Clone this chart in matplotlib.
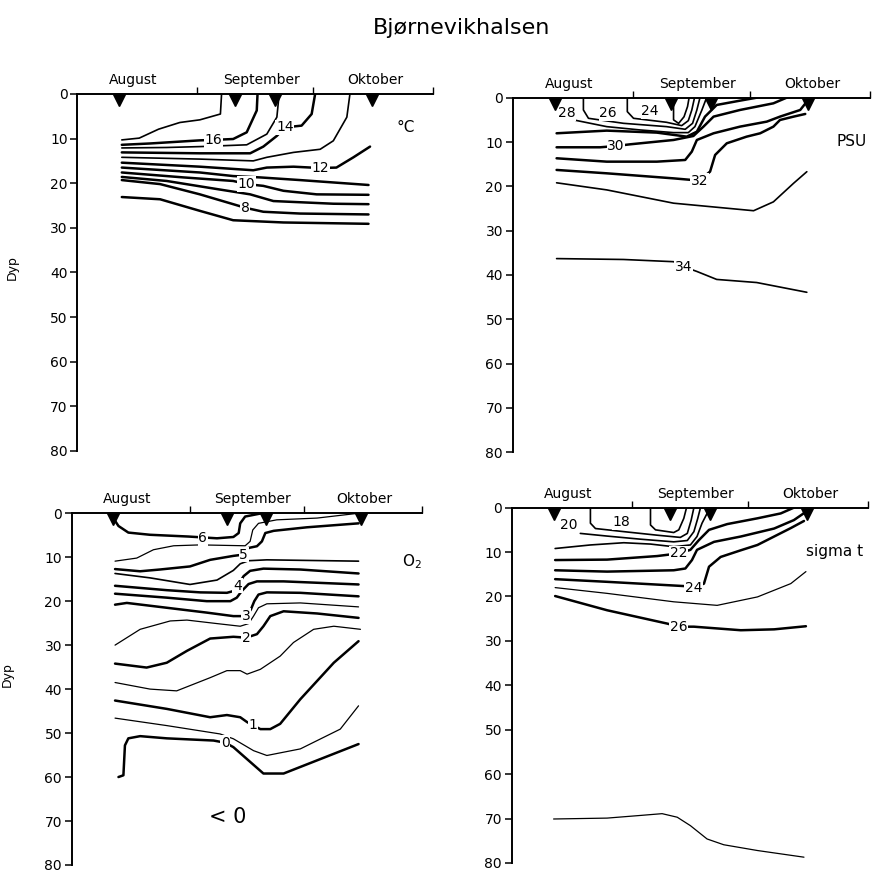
import matplotlib
matplotlib.use("Agg")
import matplotlib.pyplot as plt

# x = days after 1 August, y = depth (m)
stations = [10.8, 40.8, 51.1, 76.1]
month_ends = [31, 61, 92]
month_mid = [14.5, 47.5, 77]
month_names = ["August", "September", "Oktober"]
depth_ticks = [0, 10, 20, 30, 40, 50, 60, 70, 80]

# temperature isolines (degC)
t17 = ([11.5, 16, 21, 26.5, 31.7, 37.0, 37.3], [10.3, 9.9, 7.9, 6.4, 5.8, 4.5, 0])
t16 = ([11.5, 18.8, 31.7, 35.2, 40.3, 43.8, 46.4, 46.6], [11.4, 11.1, 10.4, 10.3, 10.1, 8.6, 3.7, 0])
t15 = ([11.5, 23, 31.7, 43.8, 49, 51.6, 52.2], [12.1, 12, 11.8, 11.4, 9, 5.2, 0])
t14 = ([11.5, 31.7, 44.7, 48.1, 51.6, 53.7, 58, 60.6, 61.5], [13.1, 13.3, 13.3, 11.8, 9.4, 7.5, 7.1, 4.5, 0])
t13 = ([11.5, 31.7, 45.5, 49, 55.9, 62.8, 66.2, 69.7, 70.5], [14.2, 14.6, 15, 14.2, 13.1, 12.4, 10.5, 5.2, 0])
t12 = ([11.5, 31.7, 45.5, 49, 55.9, 62.8, 67, 71.4, 75.7], [15.4, 16.3, 17.1, 16.5, 16.3, 16.6, 16.5, 14.2, 11.8])
t11 = ([11.5, 31.7, 40.3, 47.2, 57.6, 75.3], [16.5, 17.6, 18.4, 18.7, 19.3, 20.4])
t10 = ([11.5, 27.4, 40.3, 43.8, 48.1, 53.3, 61.9, 75.3], [17.6, 18.7, 19.5, 20.2, 20.6, 21.7, 22.5, 22.6])
t9 = ([11.5, 23.1, 36, 44.7, 50.7, 66.2, 75.3], [18.6, 19.5, 21.3, 22.5, 24.0, 24.6, 24.7])
t8 = ([11.5, 21.4, 31.7, 40.3, 43.4, 48.1, 57.6, 75.3], [19.3, 20.2, 22.5, 24.7, 25.5, 26.4, 26.8, 27.0])
t7 = ([11.5, 21.4, 31.7, 40.3, 53.3, 75.3], [23.1, 23.6, 26.2, 28.3, 28.8, 29.1])

# salinity isolines (PSU)
s23 = ([41.4, 41.4, 42.7, 44.1, 45.0, 45.4], [0, 5.0, 5.8, 4.3, 2.0, 0])
s25 = ([29.5, 29.5, 31.1, 39.6, 43.5, 45.2, 46.1, 46.8], [0, 3.15, 4.65, 5.55, 6.3, 5.18, 2.77, 0])
s27 = ([18.2, 18.2, 19.5, 28.5, 39.6, 44.4, 46.3, 47.4, 48.2], [0, 2.77, 4.65, 5.78, 6.53, 7.13, 5.78, 2.77, 0])
s28 = ([15.6, 24.2, 32.8, 41.4, 45.2, 46.9, 48.7, 49.9], [5.0, 6.53, 7.28, 7.88, 7.88, 6.53, 2.77, 0])
s29 = ([11.3, 24.2, 37.1, 44.8, 47.4, 49.5, 52.5, 58.5, 62.8], [8.03, 7.43, 7.88, 8.79, 7.66, 4.27, 1.64, 0.67, 0])
s30 = ([11.3, 22.5, 26.6, 30.2, 41.4, 46.5, 49.1, 51.7, 58.5, 67.1, 70.5],
       [11.19, 11.19, 10.9, 10.52, 9.54, 8.64, 6.53, 4.27, 2.77, 1.27, 0])
s31 = ([11.3, 24.2, 37.1, 44.4, 46.1, 47.4, 51.7, 58.5, 65.4, 68.8, 74.0, 75.7],
       [13.67, 14.43, 14.43, 14.05, 12.17, 9.54, 8.03, 6.53, 5.4, 4.27, 2.77, 0.89])
s32 = ([11.3, 24.2, 41.4, 48.0, 50.8, 52.1, 55.1, 60.2, 63.7, 67.1, 68.8, 72.3, 75.3],
       [16.3, 17.06, 18.2, 18.7, 16.68, 12.92, 10.29, 8.79, 8.03, 6.53, 5.03, 4.27, 3.67])
s33 = ([11.3, 24.2, 41.4, 62.0, 67.1, 72.3, 75.7], [19.2, 20.8, 23.8, 25.5, 23.5, 19.3, 16.7])
s34 = ([11.3, 28.5, 41.4, 43.9, 47.4, 52.5, 62.8, 75.7], [36.3, 36.5, 37.0, 38.1, 39.2, 41.0, 41.7, 43.9])

# oxygen isolines (ml/l)
o6 = ([10.1, 12.3, 14.9, 20.6, 30.7, 38.2, 42.5, 43.9, 44.3, 45.6, 50.0],
      [0.0, 2.9, 4.4, 4.9, 5.3, 5.7, 5.4, 4.5, 2.3, 0.75, 0.0])
o55 = ([11.4, 17.1, 21.5, 26.8, 33.8, 45.6, 46.9, 47.6, 49.1, 53.9, 64.5, 75.4],
       [10.9, 10.2, 8.3, 7.4, 7.2, 7.4, 6.4, 3.8, 2.3, 1.5, 1.1, 0.0])
o5 = ([11.4, 18.0, 23.2, 31.1, 36.4, 42.5, 45.2, 46.5, 48.7, 50.0, 50.9, 53.1, 61.8, 75.4],
      [12.7, 13.2, 12.8, 12.1, 10.6, 9.7, 9.4, 7.9, 7.5, 6.4, 4.5, 4.0, 3.2, 2.3])
o45 = ([11.4, 20.6, 31.1, 38.2, 42.5, 44.3, 46.5, 51.3, 75.4],
       [13.7, 14.7, 16.2, 15.2, 13.0, 11.5, 10.8, 10.6, 10.9])
o4 = ([11.4, 25.0, 33.8, 40.8, 42.5, 43.6, 45.2, 46.9, 50.4, 60.1, 75.4],
      [16.5, 17.5, 18.0, 18.1, 17.7, 16.5, 14.3, 13.1, 12.6, 12.8, 13.7])
o37 = ([11.4, 25.0, 35.5, 41.7, 43.4, 44.7, 46.5, 48.7, 55.7, 75.4],
       [18.3, 19.2, 20.0, 20.0, 19.2, 17.7, 16.1, 15.5, 15.5, 16.2])
o3 = ([11.4, 14.5, 25.0, 35.5, 42.5, 45.9, 47.1, 48.0, 49.1, 51.3, 60.1, 75.4],
      [20.8, 20.4, 21.5, 22.6, 23.4, 23.4, 21.9, 20.0, 18.5, 18.0, 18.1, 18.9])
o25 = ([11.4, 18.0, 25.9, 30.3, 38.2, 44.3, 46.5, 47.8, 49.1, 51.3, 60.1, 75.4],
       [30.0, 26.4, 24.5, 24.3, 25.1, 25.7, 25.1, 23.4, 21.5, 20.6, 20.4, 21.3])
o2 = ([11.4, 19.7, 25.0, 30.3, 36.4, 42.5, 45.9, 48.7, 50.4, 52.2, 55.7, 64.5, 75.4],
      [34.2, 35.1, 34.0, 31.3, 28.5, 28.1, 28.3, 27.5, 25.7, 23.4, 22.3, 22.8, 23.8])
o15 = ([11.4, 20.6, 27.6, 36.4, 40.8, 44.3, 46.1, 49.6, 54.8, 58.3, 63.6, 68.9, 75.9],
       [38.5, 40.0, 40.4, 37.4, 35.8, 35.8, 36.6, 35.5, 32.5, 29.4, 26.4, 25.7, 26.4])
o1 = ([11.4, 25.0, 36.4, 40.8, 44.3, 46.1, 47.6, 49.6, 52.2, 54.8, 60.1, 68.9, 75.4],
      [42.6, 44.5, 46.4, 45.9, 46.4, 47.5, 48.2, 49.1, 49.1, 47.9, 42.3, 34.0, 29.1])
o05 = ([11.4, 25.0, 39.0, 42.5, 47.8, 51.3, 60.1, 70.6, 75.4],
       [46.6, 48.3, 50.2, 51.3, 54.0, 55.1, 53.6, 49.1, 43.8])
o0 = ([12.3, 13.6, 14.0, 14.9, 18.0, 25.0, 37.3, 40.4, 42.5, 50.4, 55.7, 75.4],
      [60.0, 59.6, 52.8, 51.2, 50.7, 51.2, 51.7, 52.2, 53.2, 59.2, 59.2, 52.5])

# sigma-t isolines
g17 = ([35.8, 35.8, 37.1, 41.8, 43.1, 44.4, 45.1], [0, 3.9, 5.0, 5.6, 5.0, 2.4, 0])
g18 = ([20.3, 20.3, 21.6, 28.9, 37.5, 43.5, 45.3, 46.3, 47.0], [0, 3.5, 4.7, 5.4, 6.2, 6.7, 5.8, 2.8, 0])
g19 = ([17.7, 24.6, 33.2, 41.8, 45.3, 47.0, 48.0, 48.7], [5.8, 6.4, 7.1, 7.7, 7.4, 5.4, 2.4, 0])
g20 = ([11.2, 20.3, 28.9, 35.8, 41.8, 46.1, 47.8, 49.1, 50.4, 51.3], [9.2, 8.4, 7.9, 8.2, 8.8, 8.4, 6.5, 3.5, 1.3, 0])
g21 = ([11.2, 24.6, 37.5, 43.1, 46.1, 48.3, 50.9, 55.6, 63.4, 69.4, 72.8],
       [11.8, 11.7, 10.9, 10.3, 9.5, 7.3, 5.0, 3.7, 2.4, 1.3, 0])
g23 = ([11.2, 24.6, 41.8, 44.8, 46.5, 47.8, 52.2, 59.1, 67.7, 72.8, 75.8],
       [14.1, 14.4, 14.1, 13.7, 11.8, 9.5, 7.7, 6.5, 4.7, 2.8, 1.0])
g24 = ([11.2, 24.6, 45.3, 47.0, 49.6, 50.9, 53.9, 59.1, 63.4, 67.7, 72.0, 75.4],
       [16.1, 16.7, 17.7, 18.0, 17.1, 13.3, 11.1, 9.6, 8.4, 6.5, 4.6, 3.0])
g25 = ([11.2, 24.6, 41.8, 53.0, 63.4, 72.0, 75.9], [18.0, 19.3, 21.2, 22.0, 20.1, 17.1, 14.4])
g26 = ([11.2, 24.6, 40.1, 43.1, 47.0, 59.1, 67.7, 75.9], [19.9, 23.1, 26.1, 26.8, 26.8, 27.6, 27.4, 26.7])
g27 = ([10.8, 24.6, 33.2, 38.8, 42.7, 46.1, 50.4, 54.7, 63.4, 75.4],
       [70.1, 69.9, 69.3, 68.9, 69.7, 71.6, 74.6, 75.9, 77.2, 78.7])

BOLD, MID, THIN = 1.8, 1.2, 0.9

temp_lines = [(t17, MID), (t16, BOLD), (t15, MID), (t14, BOLD), (t13, MID), (t12, BOLD),
              (t11, BOLD), (t10, BOLD), (t9, BOLD), (t8, BOLD), (t7, BOLD)]
temp_labels = [("16", 35.2, 10.3), ("14", 53.7, 7.5), ("12", 62.8, 16.6), ("10", 43.8, 20.2), ("8", 43.4, 25.5)]

sal_lines = [(s23, MID), (s25, MID), (s27, MID), (s28, MID), (s29, BOLD), (s30, BOLD),
             (s31, BOLD), (s32, BOLD), (s33, MID), (s34, MID)]
sal_labels = [("28", 13.9, 3.5), ("26", 24.6, 3.5), ("24", 35.4, 3.1),
              ("30", 26.6, 10.9), ("32", 48.0, 18.7), ("34", 43.9, 38.1)]

oxy_lines = [(o6, BOLD), (o55, THIN), (o5, BOLD), (o45, MID), (o4, BOLD), (o37, BOLD), (o3, BOLD),
             (o25, THIN), (o2, BOLD), (o15, THIN), (o1, BOLD), (o05, THIN), (o0, BOLD)]
oxy_labels = [("6", 34.5, 5.7), ("5", 45.2, 9.4), ("4", 43.6, 16.5), ("3", 45.9, 23.4),
              ("2", 45.9, 28.3), ("1", 47.6, 48.2), ("0", 40.4, 52.2)]

sig_lines = [(g17, MID), (g18, MID), (g19, MID), (g20, MID), (g21, BOLD), (g23, BOLD),
             (g24, BOLD), (g25, THIN), (g26, BOLD), (g27, THIN)]
sig_labels = [("20", 14.7, 3.9), ("18", 28.4, 3.2), ("22", 43.1, 10.3), ("24", 47.0, 18.0), ("26", 43.1, 26.8)]


fig = plt.figure(figsize=(8.74, 8.73), dpi=100)
fig.text(0.528, 0.968, "Bjørnevikhalsen", ha="center", va="center", fontsize=16)


def panel(rect, lines, labels, unit, unit_x, unit_y, dyp=None):
    ax = fig.add_axes(rect)
    ax.set_xlim(0, 92)
    ax.set_ylim(80, 0)
    for sp in ["right", "bottom"]:
        ax.spines[sp].set_visible(False)
    for sp in ["top", "left"]:
        ax.spines[sp].set_linewidth(1.4)
    ax.xaxis.set_ticks_position("top")
    ax.set_xticks(month_ends)
    ax.set_xticklabels(["", "", ""])
    ax.set_xticks(month_mid, minor=True)
    ax.set_xticklabels(month_names, minor=True, fontsize=10)
    ax.tick_params(axis="x", which="major", direction="out", length=5, width=1)
    ax.tick_params(axis="x", which="minor", length=0, pad=5)
    ax.set_yticks(depth_ticks)
    ax.tick_params(axis="y", direction="out", length=5, width=1.1, labelsize=10, pad=2)

    for (xs, ys), lw in lines:
        ax.plot(xs, ys, color="black", lw=lw, solid_joinstyle="round", solid_capstyle="round")
    for txt, x, y in labels:
        ax.text(x, y, txt, fontsize=10, ha="center", va="center", zorder=5,
                bbox=dict(boxstyle="square,pad=0.05", fc="white", ec="none"))
    ax.plot(stations, [1.4] * len(stations), "v", color="black", ms=8.5, clip_on=False, zorder=6)
    ax.text(unit_x, unit_y, unit, fontsize=11, ha="center", va="center")
    if dyp is not None:
        ax.set_ylabel("Dyp", fontsize=9)
        ax.yaxis.set_label_coords(-0.165, dyp)
    return ax


panel([0.0885, 0.4834, 0.407, 0.409], temp_lines, temp_labels, "°C", 85.0, 7.5, dyp=0.513)
panel([0.5866, 0.4819, 0.409, 0.4062], sal_lines, sal_labels, "PSU", 87.2, 9.9)
ax3 = panel([0.0820, 0.0092, 0.4005, 0.4029], oxy_lines, oxy_labels, "O$_2$", 89.5, 10.9, dyp=0.54)
ax3.text(41.1, 69.0, "< 0", fontsize=15, ha="center", va="center")
panel([0.5855, 0.0115, 0.408, 0.407], sig_lines, sig_labels, "sigma t", 83.4, 9.9)

fig.savefig("out.png", dpi=100)
